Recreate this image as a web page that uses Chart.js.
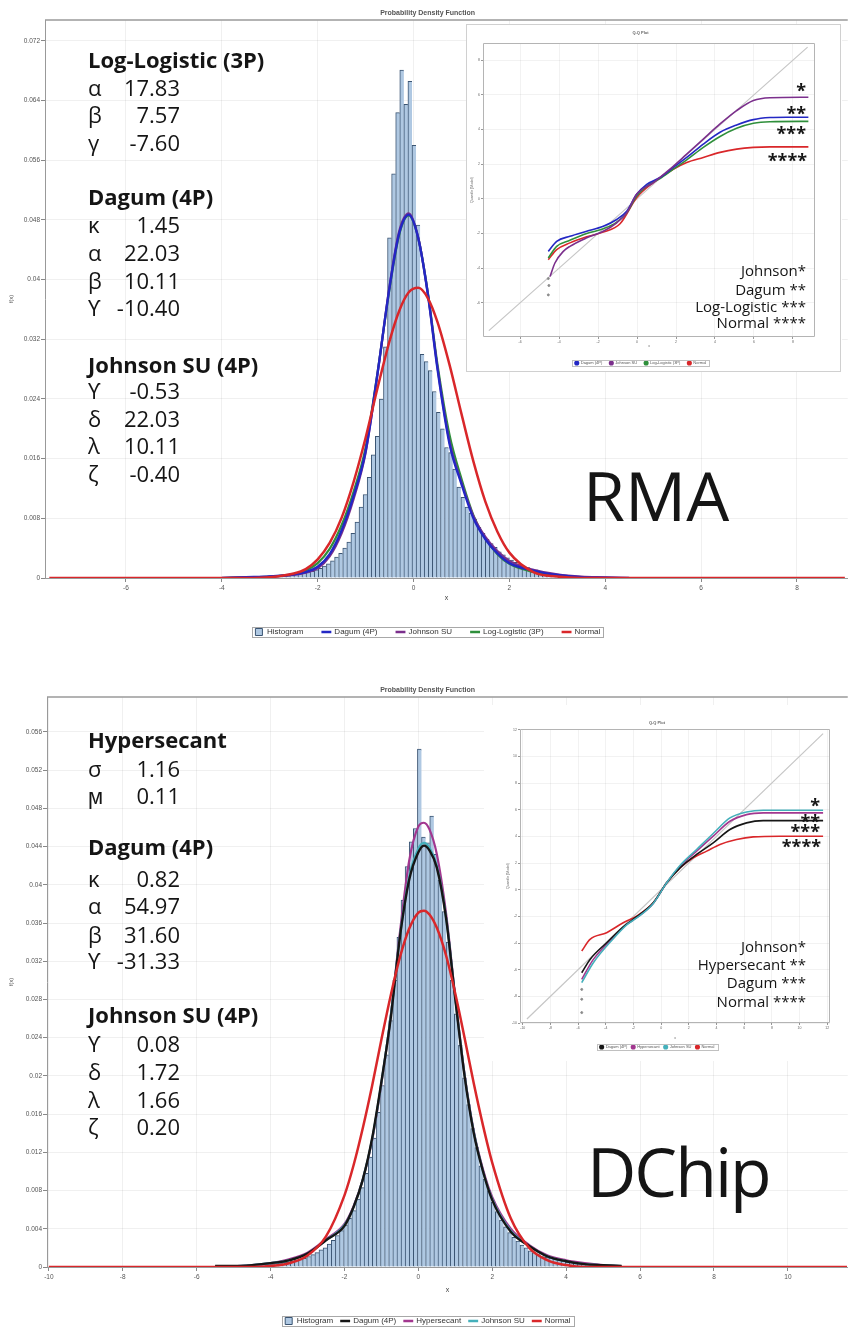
<!DOCTYPE html>
<html><head><meta charset="utf-8">
<title>Probability Density Function fits</title>
<script src="https://cdn.jsdelivr.net/npm/chart.js@4.4.1/dist/chart.umd.min.js"></script>
<style>
html,body{margin:0;padding:0;background:#fff}
body{width:849px;height:1328px;position:relative;overflow:hidden}
canvas{position:absolute;display:block}
#texts{position:absolute;left:0;top:0;width:849px;height:1328px;pointer-events:none}
.tx{position:absolute;white-space:nowrap;color:#151515;font-family:"Open Sans",sans-serif;line-height:1}
#q1box{position:absolute;left:466px;top:24px;width:375px;height:348px;border:1px solid #d0d0d0;box-sizing:border-box;pointer-events:none}
</style></head><body>
<canvas id="c1" width="849" height="656" style="left:0px;top:0px"></canvas>
<canvas id="c2" width="849" height="690" style="left:0px;top:660px"></canvas>
<canvas id="q1" width="376" height="362" style="left:466px;top:24px;background:#fff;clip-path:inset(0px 0px 14px 0px)"></canvas>
<div id="q1box"></div>
<canvas id="q2" width="365" height="360" style="left:484px;top:705px;background:#fff;clip-path:inset(0px 0px 4px 0px)"></canvas>
<div id="texts"></div>
<script>
// ================= DATA =================
// ---- RMA panel ----
const rmaBinCenters = [-3.22,-3.135,-3.05,-2.965,-2.88,-2.795,-2.71,-2.625,-2.54,-2.455,-2.37,-2.285,-2.2,-2.115,-2.03,-1.945,-1.86,-1.775,-1.69,-1.605,-1.52,-1.435,-1.35,-1.265,-1.18,-1.095,-1.01,-0.925,-0.84,-0.755,-0.67,-0.585,-0.5,-0.415,-0.33,-0.245,-0.16,-0.075,0.01,0.095,0.18,0.265,0.35,0.435,0.52,0.605,0.69,0.775,0.86,0.945,1.03,1.115,1.2,1.285,1.37,1.455,1.54,1.625,1.71,1.795,1.88,1.965,2.05,2.135,2.22,2.305,2.39,2.475,2.56,2.645,2.73,2.815,2.9,2.985,3.07,3.155,3.24,3.325,3.41,3.495,3.58,3.665,3.75,3.835,3.92];
const rmaHistogram = [0.0001,0.0001,0.0001,0.0002,0.0002,0.0002,0.0003,0.0003,0.0004,0.0005,
  0.0006,0.0007,0.0008,0.0009,0.0011,0.0013,0.0016,0.0019,0.0023,0.0028,
  0.0033,0.0040,0.0048,0.0060,0.0075,0.0095,0.0112,0.0135,0.0165,0.0190,0.0240,0.0310,
  0.0456,0.0542,0.0624,0.0681,0.0635,0.0666,0.0580,0.0473,
  0.0300,0.0290,0.0278,0.0250,0.0222,0.0200,0.0175,0.0168,0.0146,0.0122,
  0.0108,0.0095,0.0087,0.0079,0.0068,0.0060,0.0052,0.0046,0.0041,0.0035,
  0.0031,0.0027,0.0024,0.0021,0.0018,0.0016,0.0014,0.0012,0.0011,0.0009,
  0.0008,0.0007,0.0006,0.0005,0.0004,0.0004,0.0003,0.0003,0.0002,0.0002,
  0.0002,0.0001,0.0001,0.0001,0.0001];
const rmaCurveX = [-7.6,-4,-3.5,-3,-2.5,-2.25,-2,-1.75,-1.5,-1.25,-1,-0.75,-0.5,-0.3,-0.1,0.1,0.3,0.5,0.75,1,1.25,1.5,1.75,2,2.5,3,3.5,4,4.5,9];
const rmaDagum = [null,0,0.0001,0.0002,0.0005,0.0008,0.0015,0.0032,0.0064,0.0110,0.0170,0.0275,0.0390,0.0462,0.0487,0.0455,0.0380,0.0280,0.0180,0.0126,0.0080,0.0052,0.0033,0.0020,0.0010,0.0004,0.0001,0.00003,0,null];
const rmaJohnsonSU = [null,0,0.0001,0.0002,0.0004,0.0007,0.0013,0.0029,0.0060,0.0106,0.0168,0.0274,0.0392,0.0465,0.0489,0.0456,0.0380,0.0282,0.0183,0.0128,0.0083,0.0055,0.0036,0.0023,0.0011,0.0005,0.0002,0.0001,0,null];
const rmaLogLogistic = [null,0,0.0001,0.0002,0.0005,0.0010,0.0020,0.0039,0.0071,0.0116,0.0175,0.0276,0.0388,0.0460,0.0486,0.0455,0.0382,0.0286,0.0192,0.0133,0.0084,0.0053,0.0032,0.0019,0.0008,0.0003,0.0001,0,0,null];
const rmaNormal = [0,0,0,0.0001,0.0006,0.0012,0.0025,0.0047,0.0081,0.0129,0.0188,0.0255,0.0318,0.0358,0.0383,0.0389,0.0375,0.0343,0.0286,0.0220,0.0156,0.0102,0.0062,0.0034,0.0008,0.0002,0,0,0,0];
const rmaXTicks = [-6,-4,-2,0,2,4,6,8];
const rmaXTickLabels = ['-6','-4','-2','0','2','4','6','8'];
const rmaYTicks = [0,0.008,0.016,0.024,0.032,0.04,0.048,0.056,0.064,0.072];
const rmaYTickLabels = ['0','0.008','0.016','0.024','0.032','0.04','0.048','0.056','0.064','0.072'];
// RMA Q-Q plot
const rmaQQDagumX = [-4.55,-4.12,-3.44,-2.58,-1.73,-1.04,-0.53,-0.02,0.5,1.18,1.86,2.55,3.4,4.26,5.11,5.97,6.82,7.68,8.79];
const rmaQQDagumY = [-3.03,-2.45,-2.16,-1.87,-1.58,-1.19,-0.71,0.26,0.84,1.23,1.81,2.39,3.16,3.84,4.26,4.57,4.69,4.71,4.71];
const rmaQQJohnsonX = [-4.46,-4.21,-3.78,-3.44,-2.58,-1.73,-1.04,-0.53,-0.02,0.84,1.69,2.55,3.4,4.26,5.11,5.97,6.82,8.79];
const rmaQQJohnsonY = [-4.48,-3.7,-3.03,-2.74,-2.25,-1.87,-1.38,-0.81,0.26,0.94,1.71,2.58,3.45,4.32,5.09,5.67,5.83,5.86];
const rmaQQLogLogisticX = [-4.55,-4.12,-3.44,-2.58,-1.73,-1.04,-0.53,-0.02,0.5,1.18,1.86,2.55,3.4,4.26,5.11,5.97,6.82,8.79];
const rmaQQLogLogisticY = [-3.41,-2.74,-2.39,-2.0,-1.73,-1.34,-0.81,0.16,0.74,1.17,1.71,2.25,2.97,3.6,4.07,4.36,4.45,4.47];
const rmaQQNormalX = [-4.55,-4.12,-3.44,-2.58,-1.73,-0.87,-0.02,0.84,1.86,2.55,3.4,4.26,5.11,5.97,6.82,8.79];
const rmaQQNormalY = [-3.51,-2.93,-2.54,-2.19,-1.92,-1.44,0.07,0.94,1.71,2.1,2.39,2.68,2.87,2.97,3.0,3.0];
const rmaQQPointsX = [-4.55,-4.52,-4.55];
const rmaQQPointsY = [-4.6,-5.0,-5.54];
const rmaQQTicks = [-6,-4,-2,0,2,4,6,8];
const rmaQQTickLabels = ['-6','-4','-2','0','2','4','6','8'];

// ---- DChip panel ----
const dchipBinCenters = [-5.187,-5.076,-4.965,-4.854,-4.743,-4.632,-4.521,-4.41,-4.299,-4.188,-4.077,-3.966,-3.855,-3.744,-3.633,-3.522,-3.411,-3.3,-3.189,-3.078,-2.967,-2.856,-2.745,-2.634,-2.523,-2.412,-2.301,-2.19,-2.079,-1.968,-1.857,-1.746,-1.635,-1.524,-1.413,-1.302,-1.191,-1.08,-0.969,-0.858,-0.747,-0.636,-0.525,-0.414,-0.303,-0.192,-0.081,0.03,0.141,0.252,0.363,0.474,0.585,0.696,0.807,0.918,1.029,1.14,1.251,1.362,1.473,1.584,1.695,1.806,1.917,2.028,2.139,2.25,2.361,2.472,2.583,2.694,2.805,2.916,3.027,3.138,3.249,3.36,3.471,3.582,3.693,3.804,3.915,4.026,4.137,4.248,4.359,4.47,4.581,4.692,4.803,4.914,5.025,5.136,5.247,5.358];
const dchipHistogram = [0.0001,0.0001,0.0001,0.0001,0.0002,0.0002,0.0002,0.0002,0.0002,0.0003,
  0.0003,0.0003,0.0004,0.0004,0.0005,0.0005,0.0006,0.0007,0.0008,0.0009,
  0.0011,0.0013,0.0015,0.0018,0.0020,0.0024,0.0028,0.0033,0.0038,0.0044,
  0.0051,0.0059,0.0071,0.0083,0.0098,0.0115,0.0135,0.0162,0.0190,0.0222,
  0.0258,0.0300,0.0345,0.0384,0.0419,0.0445,0.0459,
  0.0542,0.0450,0.0444,0.0472,0.0432,0.0405,0.0372,0.0340,
  0.0300,0.0265,0.0232,0.0198,0.0170,0.0145,0.0125,0.0106,0.0092,0.0080,
  0.0068,0.0058,0.0049,0.0042,0.0036,0.0031,0.0027,0.0023,0.0020,0.0017,
  0.0015,0.0013,0.0011,0.0010,0.0009,0.0008,0.0007,0.0006,0.0005,0.0005,
  0.0004,0.0004,0.0003,0.0003,0.0002,0.0002,0.0002,0.0001,0.0001,0.0001,0.0001];
const dchipCurveX = [-10,-5.5,-5,-4.5,-4,-3.5,-3,-2.5,-2,-1.75,-1.5,-1.25,-1,-0.75,-0.5,-0.25,0,0.15,0.3,0.5,0.75,1,1.25,1.5,1.75,2,2.5,3,3.5,4,4.5,5,5.5,11.6];
const dchipDagum = [null,0.0001,0.0001,0.0002,0.0004,0.0007,0.0014,0.0028,0.0043,0.0063,0.0092,0.0135,0.0194,0.0260,0.0345,0.0405,0.0434,0.0441,0.0436,0.0418,0.0365,0.0280,0.0200,0.0140,0.0100,0.0070,0.0037,0.0022,0.0011,0.0006,0.0003,0.0002,0.0001,null];
const dchipHypersecant = [null,0.0001,0.0001,0.0002,0.0004,0.0008,0.0015,0.0029,0.0045,0.0064,0.0092,0.0133,0.0192,0.0262,0.0350,0.0425,0.0461,0.0465,0.0458,0.0432,0.0370,0.0282,0.0202,0.0142,0.0102,0.0073,0.0040,0.0023,0.0012,0.0007,0.0004,0.0002,0.0001,null];
const dchipJohnsonSU = [null,0.0001,0.0001,0.0002,0.0004,0.0007,0.0014,0.0028,0.0044,0.0063,0.0092,0.0134,0.0193,0.0262,0.0346,0.0408,0.0438,0.0444,0.0439,0.0420,0.0366,0.0281,0.0201,0.0141,0.0100,0.0071,0.0038,0.0022,0.0011,0.0006,0.0003,0.0002,0.0001,null];
const dchipNormal = [0,0,0,0,0.0001,0.0004,0.0012,0.0032,0.0075,0.0107,0.0146,0.0190,0.0238,0.0284,0.0324,0.0354,0.0371,0.0373,0.0369,0.0355,0.0326,0.0286,0.0240,0.0192,0.0148,0.0109,0.0051,0.0020,0.0007,0.0002,0,0,0,0];
const dchipXTicks = [-10,-8,-6,-4,-2,0,2,4,6,8,10];
const dchipXTickLabels = ['-10','-8','-6','-4','-2','0','2','4','6','8','10'];
const dchipYTicks = [0,0.004,0.008,0.012,0.016,0.02,0.024,0.028,0.032,0.036,0.04,0.044,0.048,0.052,0.056];
const dchipYTickLabels = ['0','0.004','0.008','0.012','0.016','0.02','0.024','0.028','0.032','0.036','0.04','0.044','0.048','0.052','0.056'];
// DChip Q-Q plot
const dchipQQDagumX = [-5.74,-5.14,-3.94,-2.74,-1.77,-0.57,0.4,1.36,2.56,3.76,4.97,6.17,7.37,11.7];
const dchipQQDagumY = [-6.23,-5.23,-3.98,-2.78,-2.03,-0.98,0.52,1.64,2.64,3.51,4.51,5.01,5.18,5.18];
const dchipQQHypersecantX = [-5.74,-4.9,-3.46,-2.49,-1.77,-0.57,0.4,1.36,2.56,3.76,4.97,6.17,7.37,11.7];
const dchipQQHypersecantY = [-6.73,-5.23,-3.6,-2.61,-2.1,-1.03,0.52,1.76,2.89,4.01,5.13,5.63,5.76,5.76];
const dchipQQJohnsonX = [-5.74,-4.9,-3.46,-2.49,-1.77,-0.57,0.4,1.36,2.56,3.76,4.97,6.17,7.37,11.7];
const dchipQQJohnsonY = [-6.97,-5.48,-3.68,-2.64,-2.12,-1.03,0.52,1.81,3.01,4.21,5.38,5.83,5.96,5.96];
const dchipQQNormalX = [-5.74,-5.14,-3.94,-2.74,-1.77,-0.57,0.4,1.36,2.32,3.29,4.25,5.45,6.65,8.58,11.7];
const dchipQQNormalY = [-4.6,-3.73,-3.23,-2.48,-1.98,-0.98,0.52,1.64,2.39,2.89,3.39,3.76,3.96,4.01,4.01];
const dchipQQPointsX = [-5.74,-5.74,-5.74];
const dchipQQPointsY = [-7.48,-8.22,-9.22];
const dchipQQTicks = [-10,-8,-6,-4,-2,0,2,4,6,8,10,12];
const dchipQQTickLabels = ['-10','-8','-6','-4','-2','0','2','4','6','8','10','12'];

// ================= TEXT ANNOTATIONS =================
const textSpecs = [
  ['Log-Logistic (3P)',88,68,'l',22,700],
  ['α',88,96,'l',22,400],['17.83',180,96,'r',22,400],
  ['β',88,123,'l',22,400],['7.57',180,123,'r',22,400],
  ['γ',88,151,'l',22,400],['-7.60',180,151,'r',22,400],
  ['Dagum (4P)',88,205,'l',22,700],
  ['κ',88,233,'l',22,400],['1.45',180,233,'r',22,400],
  ['α',88,261,'l',22,400],['22.03',180,261,'r',22,400],
  ['β',88,289,'l',22,400],['10.11',180,289,'r',22,400],
  ['ϒ',88,316,'l',22,400],['-10.40',180,316,'r',22,400],
  ['Johnson SU (4P)',88,373,'l',22,700],
  ['ϒ',88,399,'l',22,400],['-0.53',180,399,'r',22,400],
  ['δ',88,427,'l',22,400],['22.03',180,427,'r',22,400],
  ['λ',88,454,'l',22,400],['10.11',180,454,'r',22,400],
  ['ζ',88,482,'l',22,400],['-0.40',180,482,'r',22,400],
  ['RMA',583,521,'l',68,400],
  ['Hypersecant',88,748,'l',22,700],
  ['σ',88,777,'l',22,400],['1.16',180,777,'r',22,400],
  ['ϻ',88,804,'l',22,400],['0.11',180,804,'r',22,400],
  ['Dagum (4P)',88,855,'l',22,700],
  ['κ',88,887,'l',22,400],['0.82',180,887,'r',22,400],
  ['α',88,914,'l',22,400],['54.97',180,914,'r',22,400],
  ['β',88,943,'l',22,400],['31.60',180,943,'r',22,400],
  ['ϒ',88,969,'l',22,400],['-31.33',180,969,'r',22,400],
  ['Johnson SU (4P)',88,1023,'l',22,700],
  ['ϒ',88,1052,'l',22,400],['0.08',180,1052,'r',22,400],
  ['δ',88,1080,'l',22,400],['1.72',180,1080,'r',22,400],
  ['λ',88,1108,'l',22,400],['1.66',180,1108,'r',22,400],
  ['ζ',88,1135,'l',22,400],['0.20',180,1135,'r',22,400],
  ['DChip',587,1197,'l',68,400],
  // RMA inset
  ['*',806,97,'r',18,700],['**',806,120,'r',18,700],['***',806,140,'r',18,700],['****',807,167,'r',18,700],
  ['Johnson*',806,276,'r',15,400],['Dagum **',806,295,'r',15,400],['Log-Logistic ***',806,312,'r',15,400],['Normal ****',806,328,'r',15,400],
  // DChip inset
  ['*',820,812,'r',18,700],['**',820,828,'r',18,700],['***',820,838,'r',18,700],['****',821,853,'r',18,700],
  ['Johnson*',806,952,'r',15,400],['Hypersecant **',806,970,'r',15,400],['Dagum ***',806,988,'r',15,400],['Normal ****',806,1007,'r',15,400]
];

// ================= RENDER =================
Chart.defaults.font.family = '"Liberation Sans", Arial, sans-serif';

const framePlugin = {
  id:'frame',
  afterDraw(chart, args, opts){
    const a = chart.chartArea, ctx = chart.ctx;
    ctx.save(); ctx.strokeStyle = opts.color || '#999'; ctx.lineWidth = opts.width || 1;
    ctx.beginPath();
    if (opts.all) ctx.rect(Math.round(a.left)+0.5, Math.round(a.top)+0.5, Math.round(a.right-a.left)-1, Math.round(a.bottom-a.top)-1);
    else { ctx.moveTo(a.left, a.top); ctx.lineTo(a.right, a.top); }
    ctx.stroke(); ctx.restore();
  }
};
const legendBoxPlugin = {
  id:'legendBox',
  afterDraw(chart, args, opts){
    const lg = chart.legend;
    if (!lg || !lg.legendHitBoxes || !lg.legendHitBoxes.length) return;
    let l=Infinity, r=-Infinity, t=Infinity, b=-Infinity;
    lg.legendHitBoxes.forEach(h => { l=Math.min(l,h.left); r=Math.max(r,h.left+h.width); t=Math.min(t,h.top); b=Math.max(b,h.top+h.height); });
    const px = opts.padX || 4, py = opts.padY || 2;
    const ctx = chart.ctx; ctx.save(); ctx.strokeStyle = opts.color || '#aaa'; ctx.lineWidth = 1;
    ctx.strokeRect(Math.round(l-px)+0.5, Math.round(t-py)+0.5, Math.round(r-l+2*px), Math.round(b-t+2*py));
    ctx.restore();
  }
};

// place the plot area, legend and x-axis title at the wanted canvas positions
function fitArea(chart, want, st){
  for (let i=0;i<6;i++){
    const a = chart.chartArea, o = chart.config.options;
    const pad = o.layout.padding;
    pad.top += want.top - a.top;
    st.yw += want.left - a.left;
    pad.right += a.right - want.right;
    st.xh += a.bottom - want.bottom;
    const lg = chart.legend;
    if (lg && lg.legendHitBoxes && lg.legendHitBoxes.length){
      const h = lg.legendHitBoxes[0];
      const c = h.top + h.height/2;
      pad.bottom += c - want.legendY;
      const xs = o.scales.x;
      const lh = xs.title.font.size * 1.2;
      xs.title.padding.bottom = Math.max(0, (lg.top - (c - want.legendY)) - want.titleY - lh/2);
    }
    chart.update('none');
  }
}

function buildMain(id, cfg){
  const st = {yw:45, xh:44};
  const datasets = [{
    type:'bar', label:'Histogram',
    data: cfg.binX.map((x,i)=>({x:x, y:cfg.hist[i]})),
    backgroundColor:'#afc8e2', borderColor:'#3a5472',
    borderWidth:{top:1,left:1,right:0,bottom:0}, borderSkipped:false,
    barPercentage:1, categoryPercentage:1, order:10
  }];
  cfg.curves.forEach(c=>datasets.push({
    type:'line', label:c.label,
    data: cfg.curveX.map((x,i)=>({x:x, y:c.values[i]})),
    borderColor:c.color, backgroundColor:c.color, borderWidth:c.width,
    pointRadius:0, fill:false, cubicInterpolationMode:'monotone', spanGaps:false, order:c.order
  }));
  const chart = new Chart(document.getElementById(id), {
    type:'bar',
    data:{datasets:datasets},
    options:{
      responsive:false, animation:false, devicePixelRatio:1, events:[],
      layout:{padding:{left:0, top:0, right:0, bottom:4}},
      plugins:{
        title:{display:true, text:'Probability Density Function', color:'#555', font:{size:7}, padding:{top:8, bottom:cfg.titleGap}},
        legend:{position:'bottom', labels:{
          font:{size:8}, color:'#333', usePointStyle:true, boxHeight:7, padding:cfg.legendPad,
          sort:(a,b)=>a.datasetIndex-b.datasetIndex,
          generateLabels:(ch)=>ch.data.datasets.map((ds,i)=>({
            text:ds.label, datasetIndex:i, hidden:false, fontColor:'#333',
            fillStyle: ds.type==='line' ? ds.borderColor : ds.backgroundColor,
            strokeStyle: ds.borderColor, lineWidth: ds.type==='line' ? 2.5 : 1,
            pointStyle: ds.type==='line' ? 'line' : 'rect'
          }))
        }},
        tooltip:{enabled:false},
        frame:{color:'#9a9a9a', width:1.5},
        legendBox:{color:'#a8a8a8', padX:3, padY:1}
      },
      scales:{
        x:{type:'linear', position:'bottom', min:cfg.xMin, max:cfg.xMax, offset:false,
          grid:{offset:false, color:'rgba(0,0,0,0.06)', tickLength:4, tickColor:'#888'},
          border:{display:true, color:'#999'},
          ticks:{autoSkip:false, maxRotation:0, font:{size:6.5}, color:'#555', padding:2, callback:(v,i)=>cfg.xTickLabels[i]},
          afterBuildTicks:s=>{ s.ticks = cfg.xTicks.map(v=>({value:v})); },
          afterFit:s=>{ s.height = st.xh; },
          title:{display:true, text:'x', font:{size:7}, color:'#444', padding:{top:0, bottom:12}}
        },
        y:{type:'linear', min:0, max:cfg.yMax,
          grid:{color:'rgba(0,0,0,0.06)', tickLength:4, tickColor:'#888'},
          border:{display:true, color:'#999'},
          ticks:{autoSkip:false, font:{size:6.5}, color:'#555', padding:1, callback:(v,i)=>cfg.yTickLabels[i]},
          afterBuildTicks:s=>{ s.ticks = cfg.yTicks.map(v=>({value:v})); },
          afterFit:s=>{ s.width = st.yw; },
          title:{display:true, text:'f(x)', font:{size:5.5}, color:'#555', padding:{top:8, bottom:0}}
        }
      }
    },
    plugins:[framePlugin, legendBoxPlugin]
  });
  fitArea(chart, cfg.area, st);
  return chart;
}

function buildQQ(id, cfg){
  const st = {yw:cfg.area.left, xh:20};
  const datasets = [{
    type:'line', label:'', data:[{x:cfg.diag[0],y:cfg.diag[0]},{x:cfg.diag[1],y:cfg.diag[1]}],
    borderColor:'#c6c6c6', borderWidth:1.2, pointRadius:0, order:20
  }];
  cfg.curves.forEach(c=>datasets.push({
    type:'line', label:c.label, data:c.x.map((x,i)=>({x:x, y:c.y[i]})),
    borderColor:c.color, backgroundColor:c.color, borderWidth:1.6, pointRadius:0,
    cubicInterpolationMode:'monotone', order:c.order
  }));
  datasets.push({type:'scatter', label:'', data:cfg.px.map((x,i)=>({x:x, y:cfg.py[i]})),
    backgroundColor:'#8a8a8a', borderColor:'#8a8a8a', pointRadius:1, order:1});
  const chart = new Chart(document.getElementById(id), {
    type:'line',
    data:{datasets:datasets},
    options:{
      responsive:false, animation:false, devicePixelRatio:1, events:[],
      layout:{padding:{left:0, top:0, right:0, bottom:6}},
      plugins:{
        title:{display:true, text:'Q-Q Plot', color:'#666', font:{size:4}, padding:{top:4, bottom:cfg.titleGap}},
        legend:{position:'bottom', labels:{
          font:{size:cfg.legendFont}, color:'#555', usePointStyle:true, pointStyle:'circle', boxHeight:2.5, padding:cfg.legendPad,
          filter:item=>item.text!=='', sort:(a,b)=>a.datasetIndex-b.datasetIndex
        }},
        tooltip:{enabled:false},
        frame:{color:'#b4b4b4', width:1, all:true},
        legendBox:{color:'#c0c0c0', padX:3, padY:1}
      },
      scales:{
        x:{type:'linear', min:cfg.xMin, max:cfg.xMax,
          grid:{color:'rgba(0,0,0,0.05)', tickLength:2, tickColor:'#999'},
          border:{display:false},
          ticks:{autoSkip:false, maxRotation:0, font:{size:3.5}, color:'#666', padding:1, callback:(v,i)=>cfg.tickLabels[i]},
          afterBuildTicks:s=>{ s.ticks = cfg.ticks.map(v=>({value:v})); },
          afterFit:s=>{ s.height = st.xh; },
          title:{display:true, text:'x', font:{size:3.5}, color:'#666', padding:{top:0, bottom:4}}
        },
        y:{type:'linear', min:cfg.yMin, max:cfg.yMax,
          grid:{color:'rgba(0,0,0,0.05)', tickLength:2, tickColor:'#999'},
          border:{display:false},
          ticks:{autoSkip:false, font:{size:3.5}, color:'#666', padding:1, callback:(v,i)=>cfg.tickLabels[i]},
          afterBuildTicks:s=>{ s.ticks = cfg.ticks.map(v=>({value:v})); },
          afterFit:s=>{ s.width = st.yw; },
          title:{display:true, text:'Quantile (Model)', font:{size:3.5}, color:'#666', padding:{top:cfg.yTitlePad, bottom:0}}
        }
      }
    },
    plugins:[framePlugin, legendBoxPlugin]
  });
  fitArea(chart, cfg.area, st);
  return chart;
}

// --- main panels ---
buildMain('c1', {
  binX:rmaBinCenters, hist:rmaHistogram, curveX:rmaCurveX,
  curves:[
    {label:'Dagum (4P)', values:rmaDagum, color:'#2327c4', width:2.4, order:2},
    {label:'Johnson SU', values:rmaJohnsonSU, color:'#7b2f8c', width:2.2, order:3},
    {label:'Log-Logistic (3P)', values:rmaLogLogistic, color:'#2f8f3b', width:2.2, order:4},
    {label:'Normal', values:rmaNormal, color:'#d9272a', width:2.5, order:1}
  ],
  xMin:-7.69, xMax:9.06, yMax:0.07481,
  xTicks:rmaXTicks, xTickLabels:rmaXTickLabels, yTicks:rmaYTicks, yTickLabels:rmaYTickLabels,
  area:{left:45, top:20, right:849, bottom:578, legendY:632, titleY:598},
  titleGap:3, legendPad:19
});
buildMain('c2', {
  binX:dchipBinCenters, hist:dchipHistogram, curveX:dchipCurveX,
  curves:[
    {label:'Dagum (4P)', values:dchipDagum, color:'#161616', width:2.4, order:2},
    {label:'Hypersecant', values:dchipHypersecant, color:'#a2378f', width:2.2, order:4},
    {label:'Johnson SU', values:dchipJohnsonSU, color:'#45b0bb', width:2.2, order:3},
    {label:'Normal', values:dchipNormal, color:'#d9272a', width:2.5, order:1}
  ],
  xMin:-10.05, xMax:11.62, yMax:0.05966,
  xTicks:dchipXTicks, xTickLabels:dchipXTickLabels, yTicks:dchipYTicks, yTickLabels:dchipYTickLabels,
  area:{left:47, top:37, right:849, bottom:607, legendY:661, titleY:630},
  titleGap:2.8, legendPad:8
});

// --- Q-Q insets ---
buildQQ('q1', {
  curves:[
    {label:'Dagum (4P)', x:rmaQQDagumX, y:rmaQQDagumY, color:'#2327c4', order:3},
    {label:'Johnson SU', x:rmaQQJohnsonX, y:rmaQQJohnsonY, color:'#7b2f8c', order:2},
    {label:'Log-Logistic (3P)', x:rmaQQLogLogisticX, y:rmaQQLogLogisticY, color:'#2f8f3b', order:4},
    {label:'Normal', x:rmaQQNormalX, y:rmaQQNormalY, color:'#d9272a', order:5}
  ],
  px:rmaQQPointsX, py:rmaQQPointsY, diag:[-7.6,8.75],
  xMin:-7.9, xMax:9.13, yMin:-7.97, yMax:8.99, ticks:rmaQQTicks, tickLabels:rmaQQTickLabels,
  area:{left:17, top:19, right:349, bottom:313, legendY:339, titleY:322},
  titleGap:7.6, yTitlePad:4, legendPad:7, legendFont:4
});
buildQQ('q2', {
  curves:[
    {label:'Dagum (4P)', x:dchipQQDagumX, y:dchipQQDagumY, color:'#161616', order:3},
    {label:'Hypersecant', x:dchipQQHypersecantX, y:dchipQQHypersecantY, color:'#a2378f', order:4},
    {label:'Johnson SU', x:dchipQQJohnsonX, y:dchipQQJohnsonY, color:'#45b0bb', order:2},
    {label:'Normal', x:dchipQQNormalX, y:dchipQQNormalY, color:'#d9272a', order:5}
  ],
  px:dchipQQPointsX, py:dchipQQPointsY, diag:[-9.7,11.7],
  xMin:-10.2, xMax:12.2, yMin:-10, yMax:12.05, ticks:dchipQQTicks, tickLabels:dchipQQTickLabels,
  area:{left:36, top:24, right:346, bottom:318, legendY:342, titleY:332.7},
  titleGap:3.6, yTitlePad:22, legendPad:4, legendFont:4
});

// --- text overlay ---
const layer = document.getElementById('texts');
textSpecs.forEach(spec => {
  const [text, x, bl, align, size, weight] = spec;
  const d = document.createElement('div');
  d.className = 'tx';
  d.style.fontSize = size + 'px';
  d.style.fontWeight = weight;
  if (text === 'DChip') d.style.letterSpacing = '-2px';
  d.appendChild(document.createTextNode(text));
  const m = document.createElement('span');
  m.style.cssText = 'display:inline-block;width:0;height:0;vertical-align:baseline';
  d.appendChild(m);
  d.style.left = '0px'; d.style.top = '0px';
  layer.appendChild(d);
  const off = m.offsetTop;
  const w = d.getBoundingClientRect().width;
  d.style.top = (bl - off) + 'px';
  d.style.left = (align === 'r' ? x - w : x) + 'px';
});
</script>
</body></html>
